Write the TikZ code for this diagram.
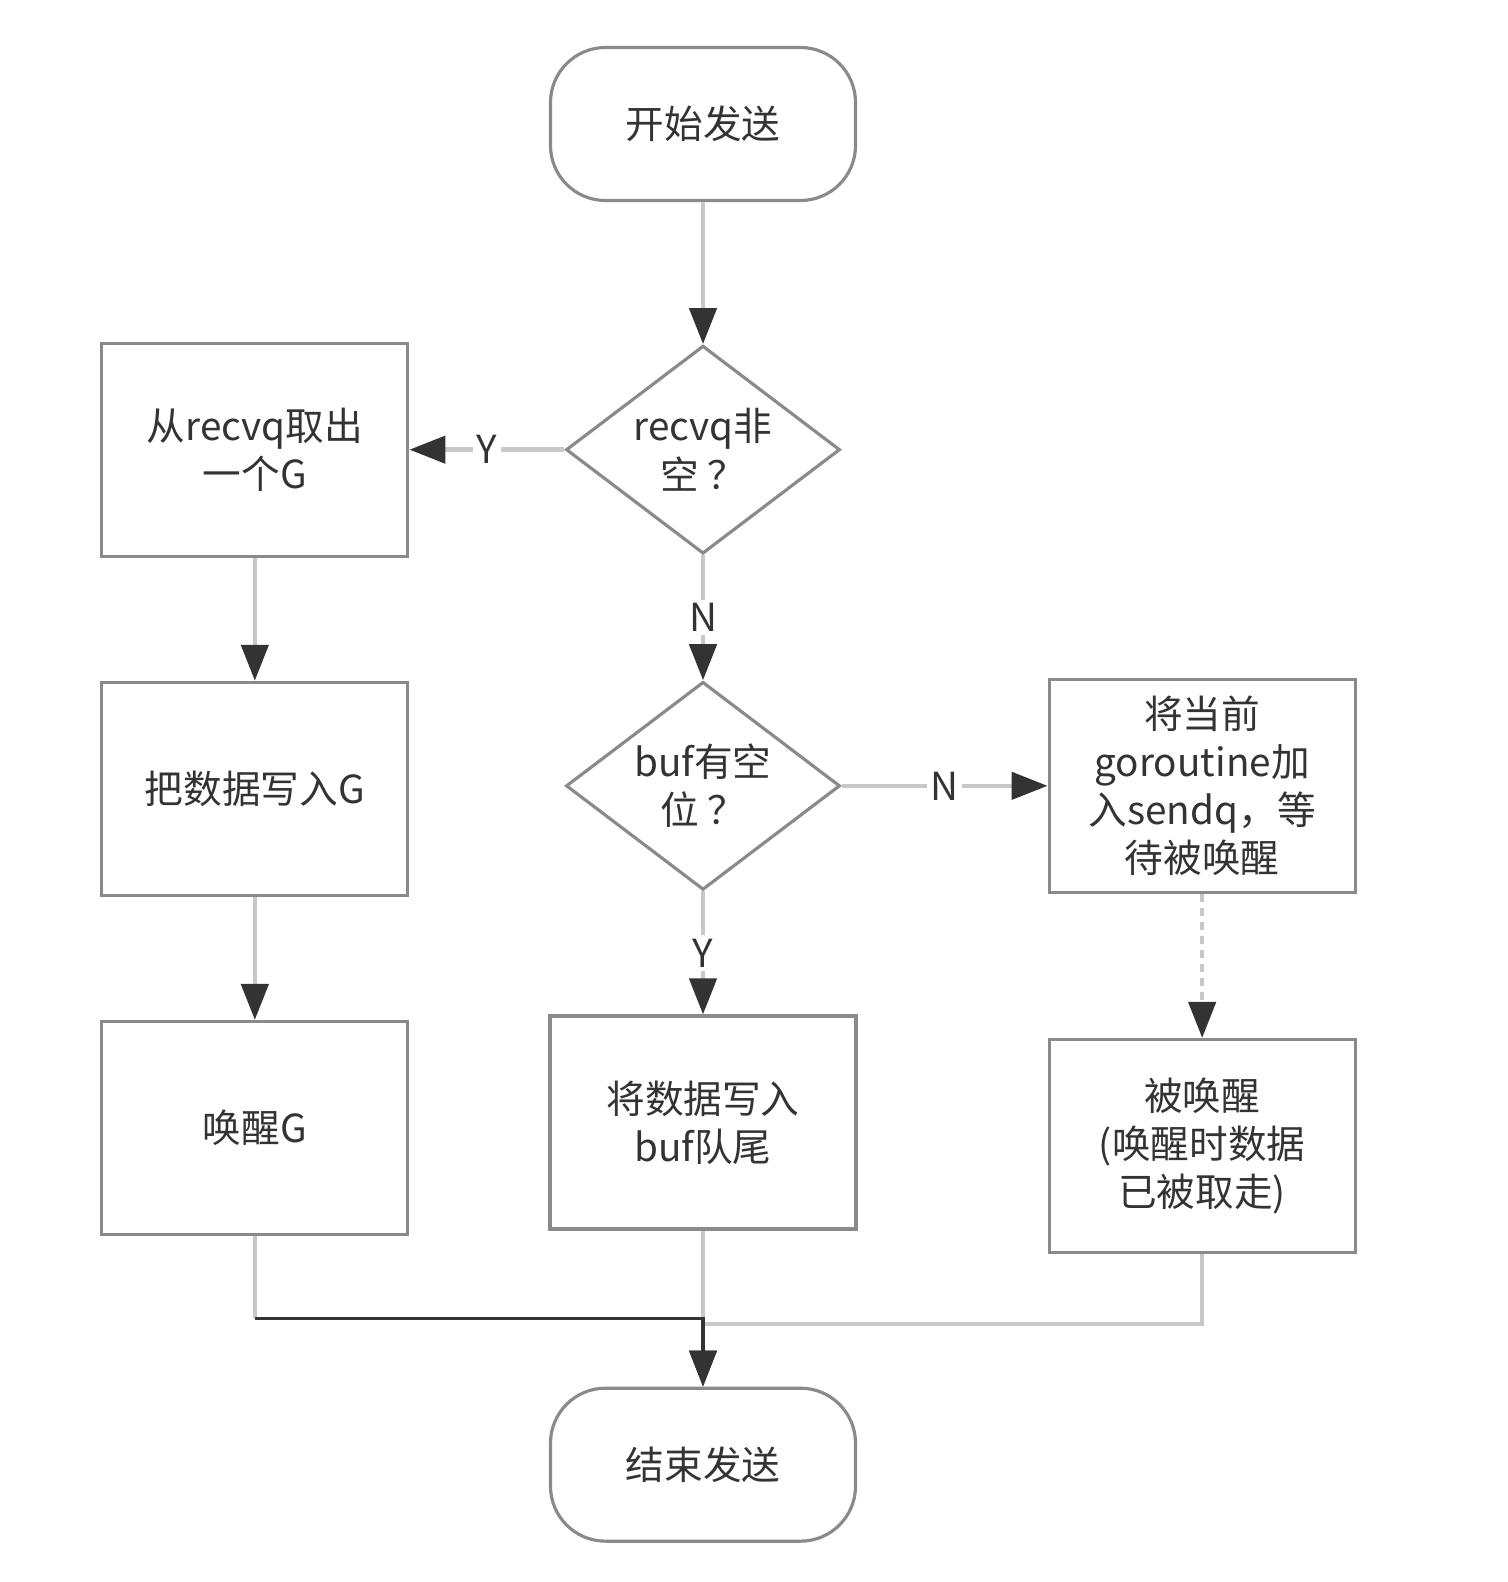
\documentclass[tikz,border=0pt]{standalone}
\usepackage{fontspec}
\setmainfont{Noto Sans CJK SC}
\usetikzlibrary{positioning,arrows.meta,shapes.geometric}

\definecolor{linegray}{HTML}{C8C8C8}
\definecolor{edgegray}{HTML}{8A8A8A}
\definecolor{inkgray}{HTML}{333333}

\begin{document}
\begin{tikzpicture}[
		every node/.style={
			text=inkgray,
			align=center,
			font=\fontsize{11pt}{13.7pt}\selectfont
		},
		stepbox/.style={draw=edgegray, line width=0.9pt,
			minimum width=3.06cm, minimum height=2.13cm},
		terminal/.style={draw=edgegray, line width=0.9pt, rounded corners=0.55cm,
			minimum width=3.05cm, minimum height=1.53cm},
		decision/.style={diamond, aspect=1.3, draw=edgegray, line width=0.9pt, inner sep=0pt,
			minimum width=2.74cm, minimum height=2.08cm},
		flow/.style={draw=linegray, line width=1.3pt,
			-{Triangle[length=0.36cm,width=0.27cm,color=inkgray]}},
		lbl/.style={fill=white, inner sep=1pt}
		]
		
		\useasboundingbox (0,0) rectangle (15.08,-15.82);
		
		\node[terminal] (start) at (7.03,-1.24) {开始发送};
		
		\node[decision,below=1.42cm of start]
		(chk1)
		{recvq非\\空 ？};
		
		\node[decision,below=1.25cm of chk1]
		(chk2)
		{buf有空\\位 ？};
		
		\node[stepbox,left=1.55cm of chk1]
		(take)
		{从recvq取出\\一个G};
		
		\node[stepbox,below=1.23cm of take]
		(write)
		{把数据写入G};
		
		\node[stepbox,below=1.23cm of write]
		(wakeg)
		{唤醒G};
		
		\node[stepbox,right=2.06cm of chk2]
		(enq)
		{将当前\\goroutine加\\入sendq，等\\待被唤醒};
		
		\node[stepbox,below=1.44cm of enq]
		(woken)
		{被唤醒\\(唤醒时数据\\已被取走)};
		
		\node[stepbox,below=1.23cm of chk2]
		(tobuf)
		{将数据写入\\buf队尾};
		
		\node[terminal,below=1.56cm of tobuf]
		(endn)
		{结束发送};
		
		\coordinate[below=0.82cm of wakeg.south] (jl);
		\coordinate[below=0.70cm of woken.south] (jr);
		
		\draw[flow] (start)--(chk1);
		\draw[flow] (chk1)--node[lbl]{Y}(take);
		\draw[flow] (chk1)--node[lbl]{N}(chk2);
		\draw[flow] (take)--(write);
		\draw[flow] (write)--(wakeg);
		\draw[flow] (chk2)--node[lbl]{N}(enq);
		\draw[flow] (chk2)--node[lbl]{Y}(tobuf);
		\draw[flow,dash pattern=on 0.08cm off 0.06cm] (enq)--(woken);
		\draw[flow] (tobuf)--(endn);
		\draw[draw=linegray,line width=1.3pt] (woken.south)|-(tobuf.south |- jr);
		\draw[draw=linegray,line width=1.3pt] (wakeg.south)--(jl);
		\draw[flow,draw=inkgray,line width=0.9pt] (jl)-|(endn.north);
		
	\end{tikzpicture}
\end{document}
